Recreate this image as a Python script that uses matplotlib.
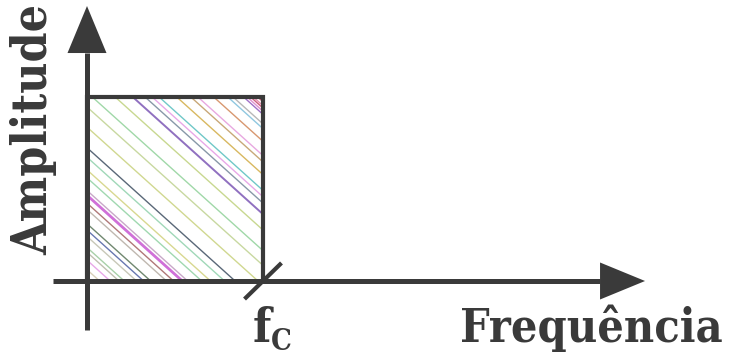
import matplotlib
matplotlib.use("Agg")
import matplotlib.pyplot as plt
from matplotlib.patches import Rectangle, Polygon

# diagram values (x in units of fc, y in units of amplitude)
fc = 1.0
amp = 1.0
axis_x_range = (-0.193, 2.915)   # shaft of frequency axis
axis_y_range = (-0.266, 1.239)   # shaft of amplitude axis
x_label = "Frequência"
y_label = "Amplitude"
fc_label = "f"
fc_sub = "C"

# hatch lines inside the pass band: offset where each line meets the top edge
hatch_offsets = [-1.14, -1.09, -1.03, -0.98, -0.95, -0.88, -0.84, -0.80, -0.71, -0.67,
                 -0.62, -0.59, -0.51, -0.46, -0.38, -0.32, -0.19, -0.063,
                 0.03, 0.16, 0.26, 0.33, 0.37, 0.41, 0.51, 0.59, 0.63, 0.72,
                 0.80, 0.83, 0.89, 0.91, 0.93, 0.945, 0.97]
hatch_colors = ['#a8d0a0', '#d8d0b8', '#e8a8e8', '#c0c0b0', '#a8d0a8', '#c8c8b8', '#6878b0', '#708870', '#c0b8b0', '#b07878',
                '#d070d8', '#c8a8c8', '#a0d8b0', '#d8d890', '#a0d8b8', '#5a6878', '#d0d890', '#c8d8a0',
                '#a0d8a8', '#c8d890', '#9070c0', '#8898a8', '#e8a8e8', '#70c8c8', '#d8b860', '#c8a878', '#e8a8e0', '#d89870',
                '#90c8e0', '#b8b8b8', '#a070c8', '#e090d0', '#d06080', '#e890b0', '#c05070']
hatch_widths = [1.0] * len(hatch_offsets)
hatch_widths[10] = 2.0
hatch_widths[20] = 1.4

ink = '#3a3a3a'
px_x, px_y = 176.0, 184.0       # pixels per data unit
slope = 0.9 * px_x / px_y        # hatch slope in data units

fig = plt.figure(figsize=(7.3, 3.55), dpi=100)
ax = fig.add_axes([0, 0, 1, 1])
ax.set_xlim(-87 / px_x, (730 - 87) / px_x)
ax.set_ylim((281 - 355) / px_y, 281 / px_y)
ax.axis('off')

box = Rectangle((0, 0), fc, amp, facecolor='none', edgecolor='none')
ax.add_patch(box)
for x0, c, lw in zip(hatch_offsets, hatch_colors, hatch_widths):
    xs = [x0 - 0.2, x0 + 1.5 / slope]
    ys = [amp - slope * (x - x0) for x in xs]
    ln, = ax.plot(xs, ys, color=c, lw=lw, solid_capstyle='butt')
    ln.set_clip_path(box)

# pass band outline
ax.plot([0, 0, fc, fc], [0, amp, amp, 0], color=ink, lw=3.0, solid_joinstyle='miter')

# axes with arrow heads
ax.plot(axis_x_range, [0, 0], color=ink, lw=3.6, solid_capstyle='butt')
ax.plot([0, 0], axis_y_range, color=ink, lw=3.6, solid_capstyle='butt')
hx, hw = 45 / px_x, 18.5 / px_y
ax.add_patch(Polygon([(axis_x_range[1], hw), (axis_x_range[1] + hx, 0), (axis_x_range[1], -hw)],
                     closed=True, color=ink, lw=0))
vy, vw = 47 / px_y, 19.5 / px_x
ax.add_patch(Polygon([(-vw, axis_y_range[1]), (0, axis_y_range[1] + vy), (vw, axis_y_range[1])],
                     closed=True, color=ink, lw=0))

# cutoff tick
ax.plot([fc - 0.105, fc + 0.105], [-0.098, 0.098], color=ink, lw=3.0, solid_capstyle='butt')

font = dict(family='DejaVu Serif', weight='bold', color=ink, fontstretch='condensed')
ax.text(3.615, -0.332, x_label, ha='right', va='baseline', fontsize=33.5, **font)
ax.text(-0.305, 0.821, y_label, ha='center', va='center', rotation=90, fontsize=34.5, **font)
ax.text(0.943, -0.332, fc_label, ha='left', va='baseline', fontsize=34, **font)
ax.text(1.045, -0.375, fc_sub, ha='left', va='baseline', fontsize=21, **font)

fig.savefig('out.png', dpi=100)
